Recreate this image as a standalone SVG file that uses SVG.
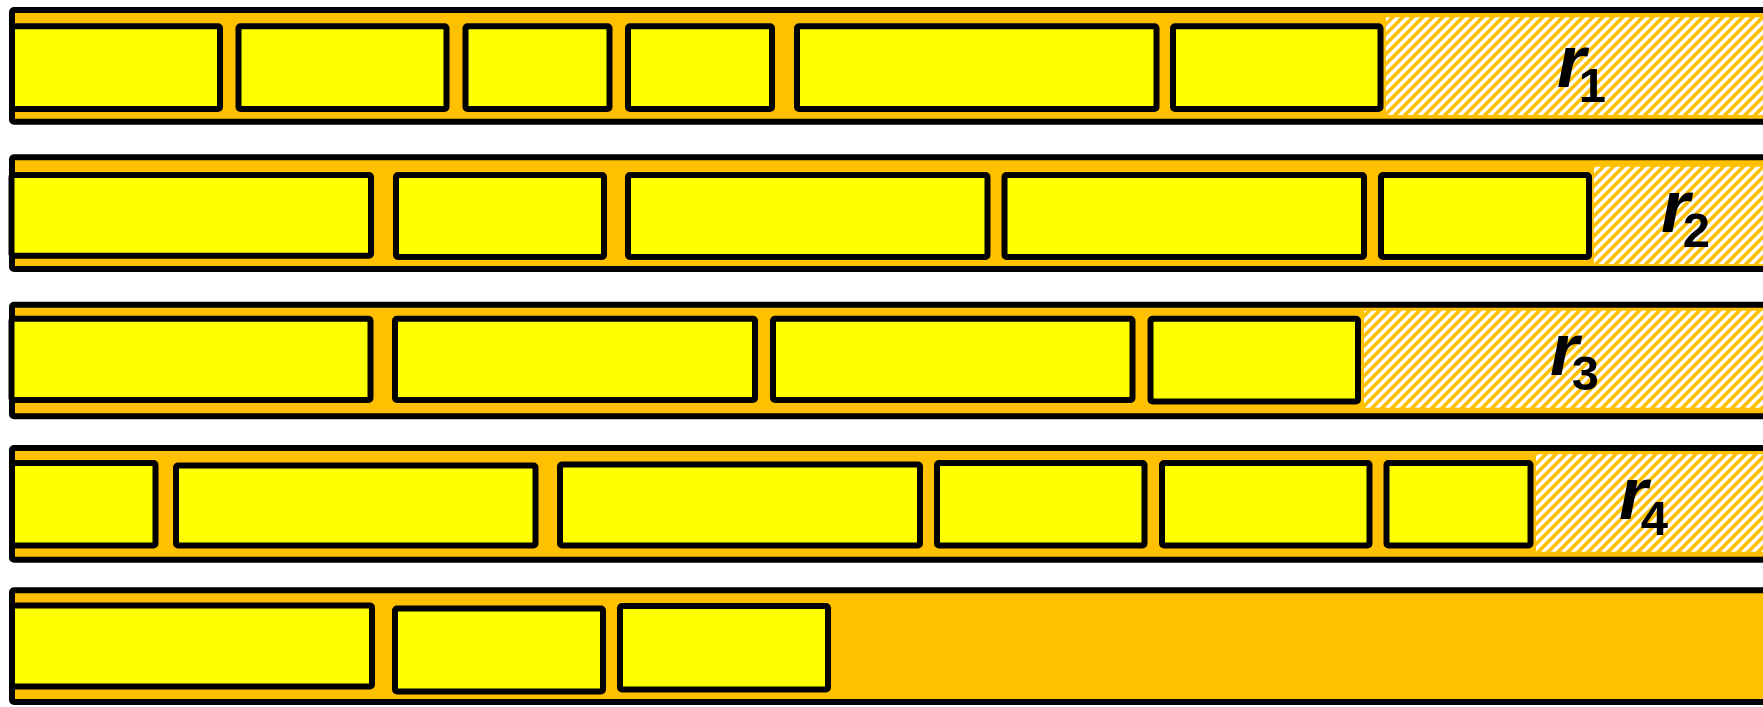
<svg xmlns="http://www.w3.org/2000/svg" width="1763" height="707" viewBox="0 0 1763 707">
<style>
.strip{fill:#FFC000;stroke:#000;stroke-width:6}
.box{fill:#FFFF00;stroke:#000;stroke-width:6}
.hatch{fill:url(#hatch)}
</style>
<defs>
<pattern id="hatch" patternUnits="userSpaceOnUse" width="10" height="10">
<rect width="10" height="10" fill="#fff"/>
<path d="M-3,3 L3,-3 M0,10 L10,0 M7,13 L13,7" stroke="#FFC000" stroke-width="3.6"/>
</pattern>
</defs>
<rect width="1763" height="707" fill="#fff"/>
<g id="row1">
<rect class="strip" x="12" y="10" width="1800" height="111.7" rx="2"/>
<rect class="hatch" x="1386" y="17.3" width="400" height="97.7"/>
<rect id="r1b1" class="box" x="12" y="26.3" width="208" height="82.7" rx="2"/>
<rect id="r1b2" class="box" x="238.5" y="26.3" width="208" height="82.7" rx="2"/>
<rect id="r1b3" class="box" x="465.5" y="26.3" width="144" height="82.7" rx="2"/>
<rect id="r1b4" class="box" x="628" y="26.3" width="144" height="82.7" rx="2"/>
<rect id="r1b5" class="box" x="797" y="26.3" width="359.5" height="82.7" rx="2"/>
<rect id="r1b6" class="box" x="1173" y="26.3" width="207.5" height="82.7" rx="2"/>
<text x="1557" y="87" font-family="Liberation Sans" font-weight="700" font-style="italic" font-size="74">r<tspan font-style="normal" font-size="49" dx="-7" dy="15">1</tspan></text>
</g>
<g id="row2">
<rect class="strip" x="12" y="157.3" width="1800" height="111.7" rx="2"/>
<rect class="hatch" x="1594" y="166.7" width="300" height="97.3"/>
<rect id="r2b1" class="box" x="11.5" y="175" width="359.5" height="80.8" rx="2"/>
<rect id="r2b2" class="box" x="396" y="175" width="208" height="82" rx="2"/>
<rect id="r2b3" class="box" x="628" y="175" width="359.5" height="82" rx="2"/>
<rect id="r2b4" class="box" x="1004.5" y="175" width="359.5" height="82" rx="2"/>
<rect id="r2b5" class="box" x="1381" y="175" width="208" height="82" rx="2"/>
<text x="1661" y="232" font-family="Liberation Sans" font-weight="700" font-style="italic" font-size="74">r<tspan font-style="normal" font-size="49" dx="-7" dy="15">2</tspan></text>
</g>
<g id="row3">
<rect class="strip" x="12" y="304.7" width="1800" height="111.6" rx="2"/>
<rect class="hatch" x="1364" y="310.7" width="420" height="97"/>
<rect id="r3b1" class="box" x="11.5" y="318.7" width="359" height="81.3" rx="2"/>
<rect id="r3b2" class="box" x="395" y="318.7" width="360" height="81.3" rx="2"/>
<rect id="r3b3" class="box" x="773" y="318.7" width="359.5" height="81.3" rx="2"/>
<rect id="r3b4" class="box" x="1150.5" y="318.7" width="207.5" height="82.8" rx="2"/>
<text x="1550" y="375" font-family="Liberation Sans" font-weight="700" font-style="italic" font-size="74">r<tspan font-style="normal" font-size="49" dx="-7" dy="15">3</tspan></text>
</g>
<g id="row4">
<rect class="strip" x="12" y="448" width="1800" height="111.7" rx="2"/>
<rect class="hatch" x="1536" y="454.3" width="300" height="97.4"/>
<rect id="r4b1" class="box" x="12" y="463" width="143.5" height="82.5" rx="2"/>
<rect id="r4b2" class="box" x="176" y="465.5" width="359.5" height="80" rx="2"/>
<rect id="r4b3" class="box" x="560" y="464.5" width="360" height="81" rx="2"/>
<rect id="r4b4" class="box" x="937" y="463" width="207.5" height="82.5" rx="2"/>
<rect id="r4b5" class="box" x="1162" y="463" width="207.5" height="82.5" rx="2"/>
<rect id="r4b6" class="box" x="1386.5" y="463" width="144" height="82.5" rx="2"/>
<text x="1619" y="519" font-family="Liberation Sans" font-weight="700" font-style="italic" font-size="74">r<tspan font-style="normal" font-size="49" dx="-7" dy="16">4</tspan></text>
</g>
<g id="row5">
<rect class="strip" x="12" y="590.3" width="1800" height="111.7" rx="2"/>
<rect id="r5b1" class="box" x="12" y="605.5" width="360" height="81" rx="2"/>
<rect id="r5b2" class="box" x="395" y="608.5" width="208" height="83" rx="2"/>
<rect id="r5b3" class="box" x="620" y="606" width="208" height="83.5" rx="2"/>
</g>
<g id="connectors"/>
</svg>
